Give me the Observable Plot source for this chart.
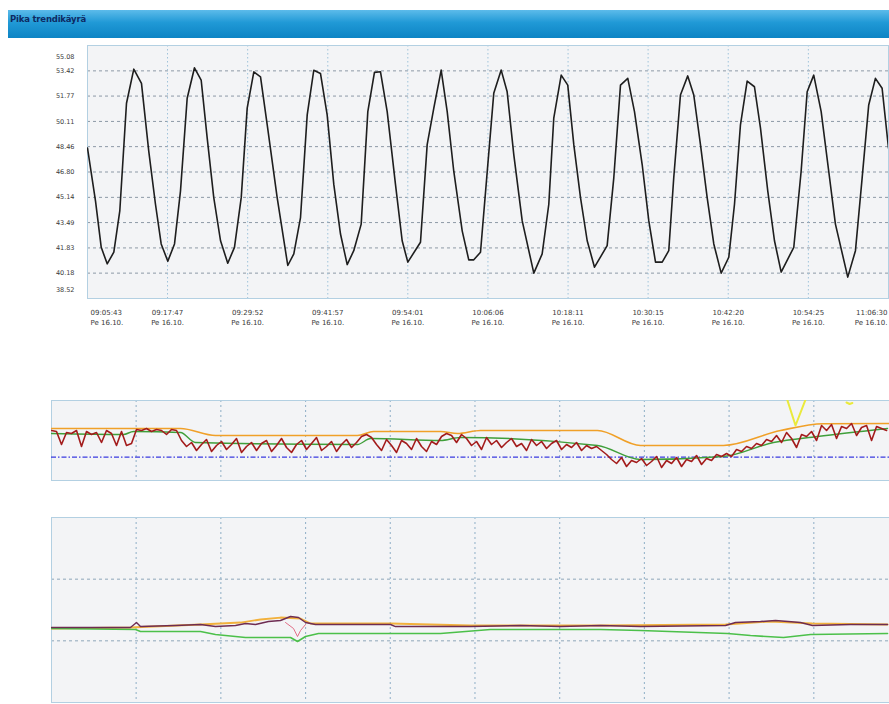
<!DOCTYPE html>
<html><head><meta charset="utf-8">
<script src="https://cdn.jsdelivr.net/npm/d3@7"></script>
<script src="https://cdn.jsdelivr.net/npm/@observablehq/plot@0.6"></script>
<style>
body{margin:0;background:#fff;width:889px;height:704px;overflow:hidden;position:relative;font-family:"DejaVu Sans",sans-serif}
#bar{position:absolute;left:8px;top:10px;width:881px;height:28px;background:linear-gradient(#5cbbea,#2099d6 45%,#0d84c4);}
#bar span{position:absolute;left:2px;top:4px;font-size:8.5px;font-weight:bold;color:#0d2a63;letter-spacing:-0.2px}
.panel{position:absolute;left:0}
</style></head><body>
<div id="bar"><span>Pika trendikäyrä</span></div>
<div id="c1" class="panel" style="top:40px"></div>
<div id="c2" class="panel" style="top:395px"></div>
<div id="c3" class="panel" style="top:510px"></div>
<script>
// ---------- data ----------
const timeLabels = ["09:05:43","09:17:47","09:29:52","09:41:57","09:54:01","10:06:06","10:18:11","10:30:15","10:42:20","10:54:25","11:06:30"];
const dateLabel = "Pe 16.10.";
const yTicks = [55.08,53.42,51.77,50.11,48.46,46.80,45.14,43.49,41.83,40.18,38.52];

// top chart: minutes after 09:05:43 and value
const waveMinutes = [0,1.21,2.07,2.97,3.97,4.87,5.88,6.98,8.14,9.24,
10.25,11.11,12.11,13.12,14.02,15.03,16.13,17.14,18.05,19.04,
20.06,21.15,22.16,23.18,24.08,25.08,26.09,27.10,28.60,30.20,
31.11,32.12,33.13,34.12,35.13,36.14,37.14,38.15,39.16,40.15,
41.27,42.27,43.27,44.18,45.19,46.44,47.45,48.30,50.21,51.22,
52.22,53.33,54.24,55.23,56.50,57.49,58.25,59.26,61.26,62.38,
63.28,64.28,65.55,67.30,68.56,69.56,70.31,71.43,72.42,73.33,
74.34,75.35,76.45,78.36,79.36,80.37,81.47,82.48,83.64,84.64,
85.65,86.66,87.65,88.40,89.41,90.51,91.42,92.43,93.44,94.44,
95.55,96.70,97.56,98.46,99.47,100.57,101.48,102.58,103.59,104.60,
106.50,107.61,108.52,109.51,110.63,111.77,112.78,114.64,115.80,116.81,
117.80,118.81,119.82,120.78];
const waveValues = [48.37,44.90,41.87,40.79,41.55,44.25,51.30,53.53,52.60,48.15,
44.69,42.09,40.96,42.09,45.55,51.63,53.62,52.82,49.02,45.12,
42.30,40.83,41.87,45.12,50.98,53.35,53.03,49.89,45.12,40.68,
41.44,43.82,50.54,53.46,53.25,50.54,45.99,42.74,40.74,41.65,
43.39,50.75,53.32,53.36,50.75,45.99,42.30,40.90,42.20,48.59,
50.98,53.47,50.75,46.85,42.95,41.05,41.05,41.55,51.95,53.47,
52.05,47.94,43.60,40.18,41.44,44.69,50.33,53.14,52.49,48.59,
45.12,42.30,40.57,41.98,46.42,52.49,52.93,50.75,47.29,43.60,
40.90,40.90,41.65,46.42,51.84,53.09,51.84,48.59,45.12,42.09,
40.18,41.22,44.69,49.89,52.75,52.38,49.67,45.55,42.30,40.25,
41.87,46.85,52.05,53.14,50.75,46.85,43.39,39.92,41.65,46.42,
51.19,52.93,52.28,48.37];

// middle panel (arbitrary units 0..80)
const lowerDomainMinutes = 119.49;
const redStepMinutes = 0.713;
const redValues = [50,49,36,48,47,50,34,49,46,48,38,50,47,35,49,
35,37,
51,50,52,49,51,50,46,51,50,
40,34,
38,30,36,41,29,35,39,31,36,42,28,34,38,30,37,40,29,35,42,33,28,36,40,31,37,43,30,34,39,29,36,41,33,38,
44,46,43,
36,30,41,35,28,40,37,31,42,34,29,39,36,
44,47,45,38,46,
42,35,39,31,43,36,40,33,38,42,34,37,30,41,35,39,32,37,40,31,36,33,38,30,35,32,34,
30,26,21,17,23,14,20,18,
22,15,19,24,13,20,17,23,14,21,19,25,16,22,20,26,24,
27,24,31,29,34,32,37,35,41,39,
45,38,48,42,33,46,44,49,40,
55,50,56,42,54,52,57,45,53,55,40,54,52,50];
const orangeMid = [[0,52],[18.39,52],[23.38,45],[43.63,45],[45.91,49],[55.47,49],[57.89,47],[61.17,50],[77.85,50],[83.98,35],[95.82,35],[103.95,50],[110.08,56.7],[119.49,57]];
const greenMid = [[0,47],[10.27,46],[11.69,49],[18.39,48],[20.53,38],[43.63,36],[45.49,42],[55.47,40],[58.32,43],[77.85,35],[83.98,21],[95.82,24],[102.95,38],[109.22,44],[119.21,52]];
const yellowMid = [[1,104.67,86],[1,106.09,55],[1,107.8,86],[2,113.36,78],[2,113.8,76.5],[2,114.2,77.5]];
const blueLevel = [23.3];

// bottom panel (units 0..3)
const purpleLow = [[0,1.216],[11.26,1.216],[12.12,1.297],[12.69,1.232],[17.68,1.249],[21.25,1.265],[23.38,1.232],[26.24,1.249],[27.66,1.281],[29.09,1.265],[30.94,1.313],[32.65,1.330],[34.08,1.395],[35.22,1.378],[36.22,1.297],[37.64,1.265],[41.21,1.265],[48.34,1.265],[49.05,1.232],[59.75,1.232],[66.87,1.249],[72.58,1.232],[78.28,1.249],[83.98,1.232],[96.11,1.249],[97.53,1.297],[101.10,1.313],[103.24,1.330],[106.80,1.297],[108.51,1.249],[113.93,1.265],[119.21,1.265]];
const orangeLow = [[0,1.200],[11.26,1.216],[21.25,1.265],[26.95,1.297],[29.80,1.346],[32.65,1.378],[35.51,1.362],[36.93,1.281],[48.34,1.281],[59.75,1.249],[78.28,1.249],[96.11,1.265],[102.52,1.313],[108.51,1.281],[119.21,1.265]];
const greenLow = [[0,1.200],[11.98,1.184],[12.69,1.151],[21.25,1.151],[23.38,1.103],[27.66,1.054],[34.08,1.054],[35.08,0.989],[36.22,1.070],[38.07,1.119],[55.47,1.119],[62.60,1.184],[78.28,1.184],[83.98,1.167],[96.39,1.119],[99.67,1.086],[104.38,1.054],[108.23,1.103],[119.21,1.119]];
const pinkLow = [[33.37,1.297],[34.51,1.200],[35.08,1.070],[35.51,1.167],[36.22,1.265]];

// ---------- helpers ----------
const secs = s => { const [h,m,x] = s.split(":").map(Number); return h*3600+m*60+x; };
const tickMin = timeLabels.map(t => (secs(t) - secs(timeLabels[0])) / 60);
const labels = timeLabels.map((t,i) => ({m: tickMin[i], t}));
const wave = waveMinutes.map((m,i) => ({m, v: waveValues[i]}));
const red = redValues.map((v,i) => ({m: i*redStepMinutes, v}));
const pair = a => a.map(([m,v]) => ({m, v}));
const style = {background:"transparent", fontFamily:"DejaVu Sans, sans-serif", color:"#333"};
const bg = "#f3f4f6", border = "#b3d0e2";
const lowerGrid = tickMin.filter(m => m < lowerDomainMinutes);
const yAx = {anchor:"left", label:null, tickSize:0, tickPadding:13, fontSize:6.5, tickFormat:d=>d.toFixed(2), fill:"#3a3a3a"};

// ---------- chart 1 ----------
const c1 = Plot.plot({
  width: 889, height: 295, marginLeft: 87, marginRight: 1, marginTop: 5, marginBottom: 37,
  style,
  x: {domain: [0, tickMin[tickMin.length-1]], axis: null, label: null},
  y: {domain: [38.52, 55.08], axis: null, label: null},
  marks: [
    Plot.frame({fill: bg, stroke: null}),
    Plot.gridY(yTicks.slice(1,-1), {stroke:"#8d99a6", strokeOpacity:1, strokeDasharray:"3,3"}),
    Plot.gridX(tickMin.slice(1,-1), {stroke:"#9fc3da", strokeOpacity:1, strokeDasharray:"1.5,2.5"}),
    Plot.frame({stroke: border}),
    Plot.line(wave, {x:"m", y:"v", stroke:"#1e1e1e", strokeWidth:1.6, clip:true}),
    Plot.axisY(yTicks.slice(1,-1), yAx),
    Plot.axisY([yTicks[0]], {...yAx, dy:11}),
    Plot.axisY([yTicks[yTicks.length-1]], {...yAx, dy:-9}),
    Plot.text(labels.slice(1,-1), {x:"m", text:d=>d.t+"\n"+dateLabel, frameAnchor:"bottom", lineAnchor:"top", dy:9, lineHeight:1.5, fontSize:7, fill:"#3a3a3a"}),
    Plot.text(labels.slice(0,1), {x:"m", text:d=>d.t+"\n"+dateLabel, frameAnchor:"bottom", lineAnchor:"top", textAnchor:"start", dx:3, dy:9, lineHeight:1.5, fontSize:7, fill:"#3a3a3a"}),
    Plot.text(labels.slice(-1), {x:"m", text:d=>d.t+"\n"+dateLabel, frameAnchor:"bottom", lineAnchor:"top", textAnchor:"end", dx:-1, dy:9, lineHeight:1.5, fontSize:7, fill:"#3a3a3a"})
  ]
});
document.getElementById("c1").append(c1);

// ---------- chart 2 ----------
const c2 = Plot.plot({
  width: 889, height: 90, marginLeft: 51, marginRight: 0, marginTop: 5, marginBottom: 5,
  style,
  x: {domain: [0, lowerDomainMinutes], axis: null},
  y: {domain: [0, 80], axis: null},
  marks: [
    Plot.frame({fill: bg, stroke: null}),
    Plot.gridX(lowerGrid, {stroke:"#8eaec6", strokeOpacity:1, strokeDasharray:"2,3"}),
    Plot.frame({stroke: border}),
    Plot.ruleY(blueLevel, {stroke:"#3a3ae0", strokeWidth:1.2, strokeDasharray:"5,2,1.5,2"}),
    Plot.line(pair(orangeMid), {x:"m", y:"v", stroke:"#f0a028", strokeWidth:1.6, curve:"monotone-x", clip:true}),
    Plot.line(pair(greenMid), {x:"m", y:"v", stroke:"#3f9f3a", strokeWidth:1.4, curve:"monotone-x", clip:true}),
    Plot.line(red, {x:"m", y:"v", stroke:"#a31c1c", strokeWidth:1.6, clip:true}),
    Plot.line(yellowMid.map(([z,m,v]) => ({z,m,v})), {x:"m", y:"v", z:"z", stroke:"#eaea3c", strokeWidth:2, clip:true})
  ]
});
document.getElementById("c2").append(c2);

// ---------- chart 3 ----------
const c3 = Plot.plot({
  width: 889, height: 194, marginLeft: 51, marginRight: 0, marginTop: 7, marginBottom: 2,
  style,
  x: {domain: [0, lowerDomainMinutes], axis: null},
  y: {domain: [0, 3], axis: null},
  marks: [
    Plot.frame({fill: bg, stroke: null}),
    Plot.gridY([1, 2, 3], {stroke:"#8ea6ba", strokeOpacity:1, strokeDasharray:"3,3"}),
    Plot.gridX(lowerGrid, {stroke:"#8eaec6", strokeOpacity:1, strokeDasharray:"2,3"}),
    Plot.frame({stroke: border}),
    Plot.line(pair(orangeLow), {x:"m", y:"v", stroke:"#f2b13c", strokeWidth:1.8, clip:true}),
    Plot.line(pair(greenLow), {x:"m", y:"v", stroke:"#4cc04a", strokeWidth:1.6, clip:true}),
    Plot.line(pair(purpleLow), {x:"m", y:"v", stroke:"#6e2c52", strokeWidth:1.4, clip:true}),
    Plot.line(pair(pinkLow), {x:"m", y:"v", stroke:"#e0607a", strokeWidth:0.9, clip:true})
  ]
});
document.getElementById("c3").append(c3);
</script></body></html>
